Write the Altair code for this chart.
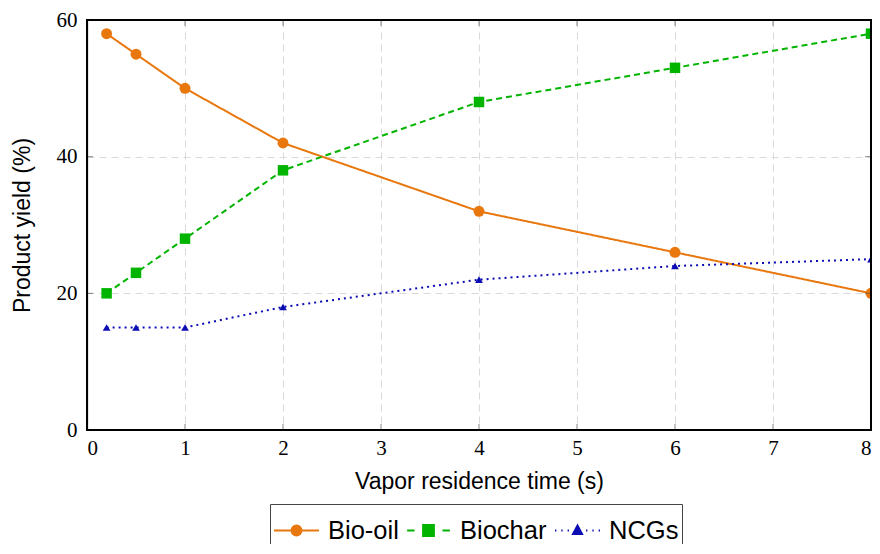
import altair as alt
import pandas as pd

# ---- data ----
time_s = [0.2, 0.5, 1, 2, 4, 6, 8]
bio_oil = [58, 55, 50, 42, 32, 26, 20]
biochar = [20, 23, 28, 38, 48, 53, 58]
ncgs = [15, 15, 15, 18, 22, 24, 25]
series = ["Bio-oil", "Biochar", "NCGs"]
x_ticks = [0, 1, 2, 3, 4, 5, 6, 7, 8]
y_ticks = [0, 20, 40, 60]

# ---- styles ----
colors = ["#e8770e", "#00b400", "#0c0cb4"]
dashes = [[1, 0], [6, 4], [2, 4]]
marker_shapes = ["circle", "square", "triangle-up"]
marker_sizes = [120, 110, 60]
legend_paths = [
    "M-1,0L1,0M-0.22,0A0.22,0.22,0,1,1,0.22,0A0.22,0.22,0,1,1,-0.22,0Z",
    "M-0.95,0L-0.62,0M0.62,0L0.95,0M-0.24,-0.24L0.24,-0.24L0.24,0.24L-0.24,0.24Z",
    "M-1,0L-0.94,0M-0.72,0L-0.66,0M-0.44,0L-0.38,0M0.38,0L0.44,0M0.66,0L0.72,0M0.94,0L1,0"
    "M0,-0.22L0.2,0.16L-0.2,0.16Z",
]

rows = []
for name, vals in zip(series, [bio_oil, biochar, ncgs]):
    for t, v in zip(time_s, vals):
        rows.append({"t": t, "y": v, "s": name})
df = pd.DataFrame(rows)
xt_df = pd.DataFrame({"t": x_ticks})
yt_df = pd.DataFrame({"y": y_ticks})

W, H = 784, 410

x_scale = alt.Scale(domain=[0, 8], nice=False)
y_scale = alt.Scale(domain=[0, 60], nice=False)
x_enc = alt.X("t:Q", scale=x_scale,
              axis=alt.Axis(values=x_ticks, title="Vapor residence time (s)",
                            labelPadding=7, titlePadding=12, format="d"))
y_enc = alt.Y("y:Q", scale=y_scale,
              axis=alt.Axis(values=y_ticks, title="Product yield (%)",
                            labelPadding=10, titlePadding=22, format="d"))

layers = []
# lines, one per series
for name, col, dsh in zip(series, colors, dashes):
    layers.append(
        alt.Chart(df).transform_filter(alt.datum.s == name)
        .mark_line(strokeWidth=2, color=col, strokeDash=dsh)
        .encode(x=x_enc, y=y_enc)
    )
# markers, one per series
for name, col, shp, sz in zip(series, colors, marker_shapes, marker_sizes):
    layers.append(
        alt.Chart(df).transform_filter(alt.datum.s == name)
        .mark_point(shape=shp, filled=True, size=sz, color=col, opacity=1)
        .encode(x=x_enc, y=y_enc)
    )

# inward tick marks on all four sides
tick_color = "#555555"
for yv in [H - 3, 3]:
    layers.append(alt.Chart(xt_df).mark_tick(color=tick_color, size=6, thickness=1).encode(
        x=alt.X("t:Q", scale=x_scale), y=alt.value(yv)))
for xv in [3, W - 3]:
    layers.append(alt.Chart(yt_df).mark_tick(color=tick_color, size=6, thickness=1).encode(
        y=alt.Y("y:Q", scale=y_scale), x=alt.value(xv)))

# legend (only layer with scaled channels; draws no marks itself)
leg = alt.Legend(
    title=None, orient="none", legendX=183, legendY=484, direction="horizontal",
    labelFont="Liberation Sans", labelFontSize=25.5, labelColor="black",
    symbolSize=2025, symbolStrokeWidth=2, symbolOpacity=1,
    strokeColor="#444444", padding=3, columnPadding=4, labelOffset=8,
)
layers.append(
    alt.Chart(df).transform_filter("false").mark_point(filled=True, opacity=1).encode(
        x=x_enc, y=y_enc,
        fill=alt.Fill("s:N", scale=alt.Scale(domain=series, range=colors), legend=leg),
        stroke=alt.Stroke("s:N", scale=alt.Scale(domain=series, range=colors), legend=leg),
        shape=alt.Shape("s:N", scale=alt.Scale(domain=series, range=legend_paths), legend=leg),
    )
)

# plot frame
layers.append(
    alt.Chart(df).mark_rect(fill=None, stroke="black", strokeWidth=1.2).encode(
        x=alt.value(0), x2=alt.value(W), y=alt.value(0), y2=alt.value(H)
    )
)

chart = alt.layer(*layers).properties(
    width=W, height=H,
    autosize=alt.AutoSizeParams(type="none"),
    padding={"left": 79, "top": 12, "right": 1, "bottom": 114},
).configure_view(
    stroke=None
).configure_axis(
    labelFont="Liberation Serif", labelFontSize=21, labelColor="black",
    titleFont="Liberation Sans", titleFontSize=23, titleFontWeight="normal", titleColor="black",
    domainColor="black", domainWidth=1.2, ticks=False,
    gridColor="#d9d9d9", gridDash=[7, 5], gridWidth=1,
)

chart.save("out.html", embed_options={"renderer": "svg", "actions": False})
